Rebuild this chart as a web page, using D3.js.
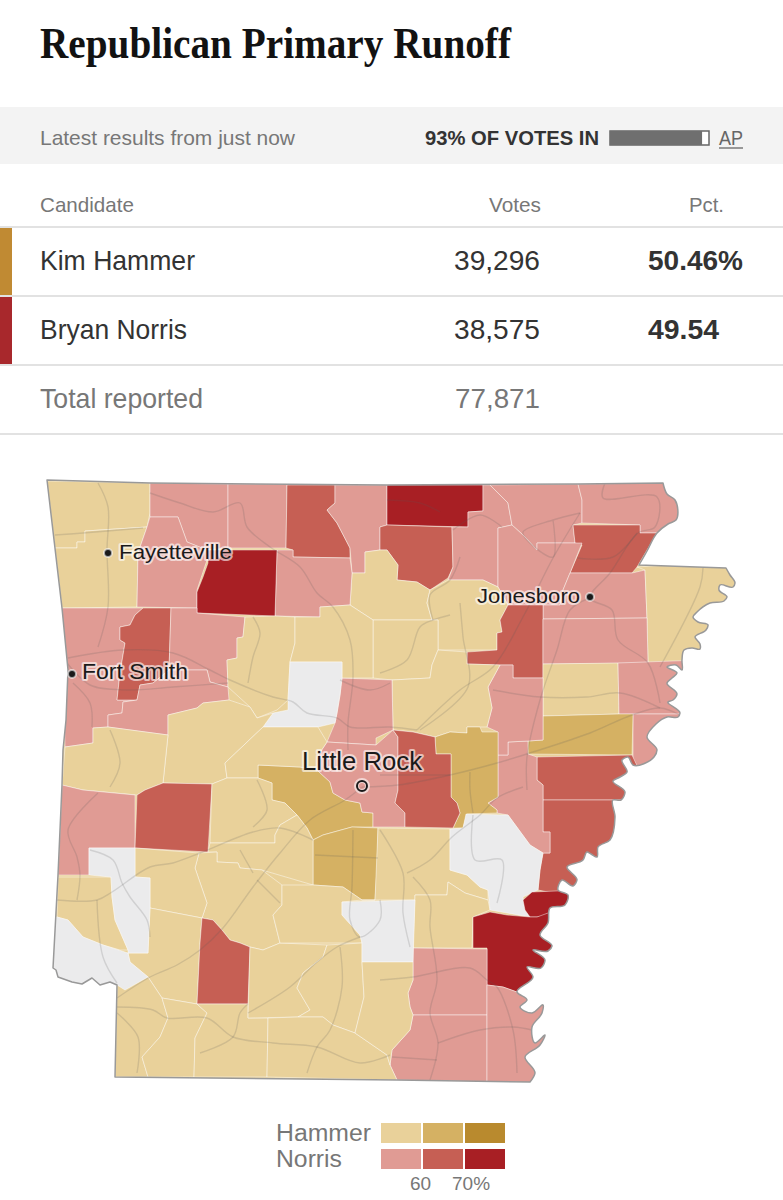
<!DOCTYPE html>
<html>
<head>
<meta charset="utf-8">
<script src="https://cdn.jsdelivr.net/npm/d3@7"></script>
<style>
  body { margin: 0; background: #fff; }
  svg { display: block; }
  text { font-family: "Liberation Sans", sans-serif; }
</style>
</head>
<body>
<svg id="chart" width="783" height="1200"></svg>
<script>
const candidates = ["Kim Hammer", "Bryan Norris"];
const votes = [39296, 38575];
const pcts = [50.46, 49.54];
const totalVotes = 77871;
const candidateColors = ["#c08a33", "#a8282c"];
const reportedPct = 93;

const legendRows = ["Hammer", "Norris"];
const legendBreaks = [50, 60, 70, 80];
const legendTicks = [60, 70];
const binColors = {
  hammerLow: "#e9d19a", hammerMid: "#d5b163", hammerHigh: "#b98a2e",
  norrisLow: "#e09b94", norrisMid: "#c65f54", norrisHigh: "#a81f24",
  none: "#ebebec"
};

// which county falls in which bin
const hammerLow = ["Benton", "Washington", "Stone", "Independence", "Cleburne", "Mississippi", "Cross", "White",
  "Pope", "VanBuren", "Yell", "Scott", "Perry", "Garland", "HotSpring", "Clark", "Pike", "Hempstead", "Sevier",
  "Miller", "Lafayette", "Columbia", "Ouachita", "Dallas", "Calhoun", "Union", "Bradley", "Jefferson", "Lincoln"];
const hammerMid = ["StFrancis", "Lonoke", "Saline", "Grant"];
const norrisLow = ["Carroll", "Madison", "Boone", "Baxter", "Sharp", "Randolph", "Clay", "Lawrence", "Craighead",
  "Poinsett", "Crittenden", "Lee", "Monroe", "Woodruff", "Faulkner", "Pulaski", "Searcy", "Crawford", "Johnson",
  "Logan", "Polk", "Drew", "Ashley", "Chicot"];
const norrisMid = ["Marion", "Izard", "Greene", "Jackson", "Franklin", "Sebastian", "Prairie", "Phillips", "Montgomery", "Nevada"];
const norrisHigh = ["Fulton", "Newton", "Desha", "DeshaNorth"];
const noResults = ["Conway", "Arkansas", "Howard", "LittleRiver", "Cleveland"];

// map geometry, in map units
const stateRiver = [[663,483],[667,494],[675,500],[676,520],[668,524],[657,533],[647,551],[639,565]];
const stateRiverEast = [[726,568],[730,575],[735,583],[733,587],[720,585],[719,590],[727,597],[724,601],[710,603],[697,612],[693,617],[698,622],[708,625],[706,630],[695,637],[700,644],[700,649],[692,648],[684,650],[682,660],[682,670],[676,665],[667,667],[677,673],[672,678],[667,683],[677,694],[673,700],[668,702],[680,713],[678,717],[667,717],[656,724],[647,737],[657,750],[654,757],[633,765],[628,757],[622,760],[627,772],[620,777],[613,781],[625,792],[621,800],[613,800],[615,817],[610,840],[598,847],[597,857],[591,854],[587,852],[583,860],[567,867],[577,880],[573,886],[562,880],[558,890],[568,895],[565,905],[550,908],[548,923],[540,935],[552,946],[548,951],[533,950],[545,960],[541,968],[527,967],[533,977],[517,992],[527,1000],[520,1007],[532,1013],[543,1005],[542,1013],[532,1027],[535,1043],[545,1035],[540,1045],[525,1057],[535,1073],[530,1082]];
const stateSouthWest = [[397,1080],[115,1077],[117,985],[110,982],[100,985],[92,978],[82,984],[72,982],[58,977],[56,970],[53,968],[58,875],[62,785],[63,750],[66,720],[68,670],[62,608],[47,480],[150,483],[387,485],[578,484]];
const stateRing = [...stateRiver, ...stateRiverEast, ...stateSouthWest];

const countyRings = {
  Benton: [[47,481],[150,483],[150,513],[147,527],[85,531],[85,542],[77,542],[77,548],[55,548]],
  Washington: [[55,548],[77,548],[77,542],[85,542],[85,531],[147,527],[138,553],[137,607],[62,608]],
  Carroll: [[150,483],[228,484],[228,548],[207,550],[187,542],[178,517],[150,517]],
  Madison: [[150,517],[178,517],[187,542],[207,550],[207,560],[197,590],[197,608],[137,607],[138,553],[147,527]],
  Boone: [[228,484],[287,484],[286,548],[228,548]],
  Marion: [[287,485],[335,485],[335,503],[327,510],[337,523],[350,548],[350,558],[293,557],[293,550],[286,548]],
  Baxter: [[335,485],[387,485],[387,525],[380,527],[380,550],[365,552],[365,573],[352,573],[350,548],[337,523],[327,510],[335,503]],
  Fulton: [[387,485],[483,485],[483,511],[468,512],[468,527],[387,525]],
  Izard: [[387,525],[452,527],[453,567],[448,578],[430,590],[417,582],[397,580],[398,565],[387,550],[380,550],[380,527]],
  Sharp: [[483,485],[490,485],[508,503],[512,525],[498,528],[498,587],[483,580],[448,580],[453,567],[452,527],[468,527],[468,512],[483,511]],
  Randolph: [[490,485],[578,484],[582,500],[582,523],[573,525],[575,543],[537,543],[537,550],[523,535],[512,525],[508,503]],
  Clay: [[578,484],[663,483],[690,500],[690,520],[657,533],[640,533],[640,525],[582,523],[582,500]],
  Greene: [[573,525],[640,525],[640,533],[657,533],[637,567],[632,573],[570,573],[582,545],[575,543]],
  Lawrence: [[498,528],[512,525],[523,535],[537,550],[537,543],[582,543],[570,573],[563,590],[560,605],[508,605],[498,587]],
  Stone: [[352,573],[365,573],[365,552],[380,550],[387,550],[398,565],[397,580],[417,582],[430,590],[427,603],[432,620],[373,620],[350,605]],
  Independence: [[448,580],[483,580],[498,587],[508,605],[500,620],[502,632],[497,633],[497,650],[438,650],[438,620],[432,620],[427,603],[430,590]],
  Cleburne: [[373,620],[438,620],[438,650],[432,665],[430,678],[392,680],[373,678]],
  Craighead: [[570,573],[632,573],[645,570],[647,618],[543,619],[543,605],[560,605],[563,590]],
  Jackson: [[508,605],[543,605],[543,678],[513,678],[513,665],[500,665],[467,664],[467,652],[497,650],[497,633],[502,632],[500,620]],
  Mississippi: [[645,570],[637,567],[745,560],[745,660],[690,663],[648,663],[647,618]],
  Poinsett: [[543,619],[647,618],[648,663],[543,664]],
  Cross: [[543,664],[618,663],[619,714],[543,716]],
  Crittenden: [[618,663],[700,660],[700,714],[619,714]],
  Lee: [[633,714],[700,714],[690,790],[633,772]],
  StFrancis: [[543,716],[619,714],[633,714],[632,755],[528,754],[528,741],[543,740]],
  Prairie: [[537,757],[632,755],[640,772],[640,800],[543,800],[543,785],[537,780]],
  Phillips: [[543,800],[640,800],[640,870],[590,900],[538,890],[540,870],[543,853],[550,853],[550,832],[543,832]],
  Monroe: [[498,755],[508,755],[508,742],[528,741],[528,754],[537,757],[537,780],[543,785],[543,832],[550,832],[550,853],[543,853],[530,845],[508,815],[497,813],[497,810],[488,803],[498,797],[498,780]],
  Woodruff: [[500,665],[513,665],[513,678],[543,678],[543,740],[528,741],[508,742],[508,755],[498,755],[498,732],[487,727],[492,708],[488,687]],
  White: [[392,680],[430,678],[432,665],[438,650],[467,652],[467,664],[500,665],[488,687],[492,708],[487,727],[467,727],[467,733],[450,732],[435,737],[413,732],[393,730]],
  Lonoke: [[435,737],[450,732],[467,733],[467,727],[480,727],[482,732],[498,732],[498,780],[498,797],[488,803],[497,810],[497,813],[467,814],[463,828],[453,828],[460,813],[457,803],[451,797],[451,754],[436,754]],
  Pulaski: [[342,678],[392,680],[393,730],[376,738],[376,745],[327,742],[335,723],[337,713],[340,695]],
  Saline: [[258,765],[300,767],[317,770],[330,782],[333,793],[345,800],[360,803],[362,812],[373,813],[373,827],[352,827],[323,835],[313,840],[307,828],[297,815],[285,803],[272,800],[272,783],[258,778]],
  Faulkner: [[327,742],[376,745],[393,730],[398,737],[398,790],[395,803],[405,813],[405,827],[373,827],[373,813],[362,812],[360,803],[345,800],[333,793],[330,782],[317,770],[317,757]],
  Franklin: [[393,730],[413,732],[435,737],[436,754],[451,754],[451,797],[457,803],[460,813],[453,828],[405,827],[405,813],[395,803],[398,790],[398,737]],
  Grant: [[352,827],[378,828],[377,870],[375,900],[362,900],[343,887],[313,885],[313,840],[323,835]],
  Jefferson: [[378,828],[450,829],[450,870],[467,875],[480,887],[488,890],[488,900],[465,893],[448,882],[447,895],[415,895],[415,900],[362,900],[375,900]],
  Lincoln: [[415,895],[447,895],[448,882],[465,893],[488,900],[490,910],[473,917],[472,948],[413,948]],
  Arkansas: [[466,814],[508,815],[530,845],[543,853],[540,870],[538,890],[523,897],[525,910],[530,917],[507,913],[490,910],[488,890],[480,887],[467,875],[450,870],[450,829],[463,828]],
  DeshaNorth: [[523,900],[532,892],[580,890],[580,912],[537,917],[530,917],[525,910]],
  Desha: [[473,917],[490,912],[507,915],[530,917],[537,917],[570,905],[570,1000],[517,992],[503,987],[487,985],[487,948],[473,948]],
  Drew: [[413,948],[487,949],[487,1015],[413,1015],[410,1007],[408,993],[413,980]],
  Ashley: [[413,1015],[487,1015],[487,1082],[397,1080],[390,1065],[392,1050],[410,1030]],
  Chicot: [[487,985],[503,987],[517,992],[570,1000],[570,1090],[487,1085]],
  Searcy: [[277,550],[293,550],[293,557],[350,558],[352,573],[350,605],[320,607],[320,617],[275,616]],
  Newton: [[208,550],[277,550],[275,616],[197,613],[197,592],[203,577],[208,563]],
  Crawford: [[62,608],[143,608],[135,615],[130,625],[120,627],[120,640],[125,643],[120,673],[117,700],[137,700],[123,702],[122,713],[108,715],[108,727],[93,728],[93,743],[65,747]],
  Sebastian: [[143,608],[171,608],[169,670],[153,683],[140,685],[137,700],[117,700],[120,673],[125,643],[120,640],[120,627],[130,625],[135,615]],
  Johnson: [[171,608],[197,608],[197,613],[245,617],[243,637],[237,638],[237,658],[227,660],[228,687],[210,682],[207,670],[169,670]],
  Logan: [[169,670],[207,670],[210,682],[228,687],[229,700],[203,703],[197,708],[168,715],[168,735],[108,727],[108,715],[122,713],[123,702],[137,700],[140,685],[153,683]],
  Pope: [[245,617],[275,616],[295,617],[295,643],[290,662],[288,700],[277,710],[257,718],[250,707],[228,687],[227,660],[237,658],[237,638],[243,637]],
  VanBuren: [[295,617],[320,617],[320,607],[350,605],[373,620],[373,678],[342,678],[342,662],[290,662],[295,643]],
  Conway: [[290,662],[342,662],[342,678],[340,695],[337,713],[335,723],[318,727],[263,727],[273,713],[288,710],[288,700]],
  Yell: [[168,715],[197,708],[203,703],[229,700],[250,707],[257,718],[273,713],[263,727],[225,763],[227,778],[212,784],[163,783],[168,735]],
  Scott: [[65,747],[93,743],[93,728],[108,727],[168,735],[163,783],[145,790],[137,795],[83,790],[62,785]],
  Polk: [[62,785],[83,790],[135,795],[135,848],[89,848],[89,875],[58,875]],
  Montgomery: [[137,795],[145,790],[163,783],[212,784],[208,852],[135,848]],
  Perry: [[225,763],[263,727],[318,727],[327,742],[317,757],[317,770],[300,767],[258,765],[258,778],[227,778]],
  Garland: [[212,784],[227,778],[258,778],[272,783],[272,800],[285,803],[297,815],[280,825],[275,835],[275,843],[210,843]],
  HotSpring: [[210,843],[275,843],[275,835],[280,825],[297,815],[307,828],[313,840],[313,885],[262,870],[240,868],[238,863],[217,862],[217,852],[208,852]],
  Clark: [[199,853],[217,852],[217,862],[238,863],[240,868],[262,870],[282,885],[282,905],[273,915],[280,943],[263,950],[250,947],[240,943],[230,940],[222,930],[213,920],[202,918],[207,903],[195,868]],
  Pike: [[135,848],[199,853],[195,868],[207,903],[202,918],[150,908],[150,878],[135,877]],
  Hempstead: [[150,908],[202,918],[200,943],[197,1004],[162,998],[152,983],[148,977],[130,962],[128,953],[148,953]],
  Nevada: [[202,918],[213,920],[222,930],[230,940],[240,943],[250,947],[248,1004],[197,1004],[200,943]],
  Sevier: [[58,877],[111,877],[112,897],[115,920],[128,950],[120,950],[103,945],[83,937],[68,920],[57,917]],
  Howard: [[89,848],[135,848],[135,877],[150,878],[150,908],[148,953],[128,953],[128,950],[115,920],[112,897],[111,877],[89,875]],
  LittleRiver: [[50,917],[57,917],[68,920],[83,937],[103,945],[128,953],[130,962],[148,977],[125,995],[40,1000],[40,930]],
  Miller: [[148,977],[152,983],[162,998],[168,1018],[160,1037],[142,1057],[148,1077],[115,1077],[117,985],[125,990]],
  Lafayette: [[162,998],[197,1004],[207,1013],[195,1038],[194,1077],[148,1077],[142,1057],[160,1037],[168,1018]],
  Columbia: [[197,1004],[248,1004],[248,1018],[268,1018],[267,1077],[194,1077],[195,1038],[207,1013]],
  Ouachita: [[250,947],[263,950],[280,943],[327,945],[323,957],[303,973],[297,988],[310,1010],[298,1017],[248,1018]],
  Dallas: [[282,885],[313,885],[343,887],[362,900],[342,902],[342,915],[360,935],[362,943],[280,943],[273,915],[282,905]],
  Calhoun: [[327,945],[362,943],[362,962],[364,997],[355,1033],[333,1025],[323,1017],[298,1017],[310,1010],[297,988],[303,973],[323,957]],
  Union: [[268,1018],[298,1017],[323,1017],[333,1025],[355,1033],[387,1055],[390,1065],[397,1080],[267,1077]],
  Cleveland: [[342,902],[415,900],[413,962],[362,962],[362,943],[360,935],[342,915]],
  Bradley: [[362,962],[413,962],[413,980],[408,993],[410,1007],[413,1015],[410,1030],[392,1050],[390,1065],[387,1055],[355,1033],[364,997]]
};

const roadLines = [
  [[68,658],[123,650],[173,653],[210,670],[230,680],[273,697],[293,702],[307,713],[337,718],[350,727],[390,727],[417,730]],
  [[417,730],[460,690],[493,667],[523,617],[553,558],[580,513]],
  [[362,787],[398,785],[450,775],[497,763],[530,753],[590,733],[632,715],[660,708],[680,715]],
  [[117,998],[150,977],[177,965],[200,950],[223,928],[253,887],[280,853],[310,820],[345,800],[362,787]],
  [[98,483],[108,507],[107,550],[108,607],[98,647]],
  [[55,535],[83,533],[143,528]],
  [[150,493],[180,503],[213,512],[240,503],[247,527],[270,547],[300,567],[317,593],[333,607],[350,640],[353,677],[348,723],[348,750]],
  [[253,617],[260,633],[253,657],[248,683]],
  [[67,663],[90,685],[127,690],[173,687],[228,683]],
  [[73,683],[90,703],[92,727]],
  [[110,730],[120,763],[110,787]],
  [[98,793],[68,830],[77,857],[80,875],[77,900]],
  [[57,900],[97,900],[112,892],[150,867],[173,863],[200,853],[253,832],[280,828],[313,840]],
  [[90,850],[113,860],[122,883],[130,897],[147,920],[150,937]],
  [[97,900],[103,957],[117,983]],
  [[117,1007],[153,1010],[167,1018],[207,1018],[233,1037],[273,1043],[317,1047],[360,1063],[390,1055]],
  [[117,1013],[138,1037],[137,1073]],
  [[200,1053],[233,1037],[240,1013],[248,1004]],
  [[248,1013],[290,987],[317,962],[337,947],[360,937]],
  [[340,947],[342,987],[330,1030],[317,1047],[307,1073]],
  [[353,830],[352,887],[350,920],[360,937],[380,920],[380,900]],
  [[380,830],[403,873],[403,913],[410,947]],
  [[407,873],[430,860],[452,837],[480,815],[497,798],[523,787]],
  [[473,815],[475,860],[502,860],[497,903]],
  [[413,877],[430,900],[430,927],[437,980],[430,1013],[438,1043],[430,1080]],
  [[380,980],[413,977],[470,968],[487,980],[497,987],[513,1030],[517,1073]],
  [[438,1043],[480,1030],[513,1027],[532,1030]],
  [[392,1057],[437,1060]],
  [[605,483],[603,498],[657,497],[655,527],[638,533],[610,573],[590,598],[612,610],[618,640],[648,663],[660,703]],
  [[703,568],[700,587],[660,667]],
  [[590,598],[570,610],[557,650],[540,700],[527,757],[527,790]],
  [[493,690],[540,697],[587,697],[620,693],[660,708]],
  [[577,558],[613,557],[637,533]],
  [[553,520],[553,557],[527,540],[523,532],[553,520],[580,513]],
  [[453,530],[480,515],[502,527]],
  [[460,557],[450,580],[430,595],[433,620]],
  [[460,603],[463,637],[468,687],[420,730]],
  [[380,673],[407,660],[420,627],[433,620],[450,615]],
  [[387,500],[420,503],[440,512]],
  [[470,772],[470,790],[473,813]],
  [[380,775],[450,775]],
  [[340,680],[370,690],[390,683]],
  [[257,780],[267,810],[253,827]],
  [[240,850],[253,873]],
  [[257,880],[280,903]],
  [[315,855],[378,858]]
];

const cityNames = ["Fayetteville", "Fort Smith", "Jonesboro", "Little Rock"];
const cityPoints = [[108,553], [72,674], [590,597], [362,786]];

const svg = d3.select("#chart");

const label = (parent, str, x, y, size, fill, opts = {}) => {
  const t = parent.append("text")
    .attr("x", x).attr("y", y)
    .attr("font-size", size)
    .attr("fill", fill)
    .attr("text-anchor", opts.anchor || "start")
    .attr("font-weight", opts.weight || "normal")
    .text(str);
  if (opts.len) t.attr("textLength", opts.len).attr("lengthAdjust", "spacingAndGlyphs");
  if (opts.family) t.style("font-family", opts.family);
  return t;
};

// title
label(svg, "Republican Primary Runoff", 40, 58, 44, "#121212", {
  weight: "bold", len: 471, family: '"Liberation Serif", serif'
});

// status band
svg.append("rect").attr("x", 0).attr("y", 107).attr("width", 783).attr("height", 57).attr("fill", "#f3f3f3");
label(svg, "Latest results from just now", 40, 145, 21, "#777", { len: 255 });
label(svg, `${reportedPct}% OF VOTES IN`, 425, 145, 21, "#333", { weight: "bold", len: 174 });

const progress = d3.scaleLinear().domain([0, 100]).range([610, 709]);
svg.append("rect").attr("x", progress(0)).attr("y", 131).attr("width", progress(100) - progress(0)).attr("height", 14)
  .attr("fill", "#fff").attr("stroke", "#666").attr("stroke-width", 1.5);
svg.append("rect").attr("x", progress(0)).attr("y", 131).attr("width", progress(reportedPct) - progress(0)).attr("height", 14)
  .attr("fill", "#6f6f6f");
label(svg, "AP", 719, 145, 21, "#666", { len: 24 });
svg.append("line").attr("x1", 719).attr("x2", 743).attr("y1", 148).attr("y2", 148).attr("stroke", "#666").attr("stroke-width", 1.3);

// results table
label(svg, "Candidate", 40, 212, 21, "#777", { len: 94 });
label(svg, "Votes", 541, 212, 21, "#777", { anchor: "end", len: 52 });
label(svg, "Pct.", 724, 212, 21, "#777", { anchor: "end", len: 35 });

const rowY = d3.scaleBand().domain(d3.range(3)).range([227, 434]);
svg.selectAll(".rule").data(d3.range(4)).enter().append("line")
  .attr("class", "rule")
  .attr("x1", 0).attr("x2", 783)
  .attr("y1", i => 227 + i * rowY.bandwidth()).attr("y2", i => 227 + i * rowY.bandwidth())
  .attr("stroke", "#e2e2e2").attr("stroke-width", 2);

const fmt = d3.format(",");
candidates.forEach((c, i) => {
  const y = rowY(i);
  svg.append("rect").attr("x", 0).attr("y", y + 1).attr("width", 12).attr("height", rowY.bandwidth() - 2).attr("fill", candidateColors[i]);
  label(svg, c, 40, y + 43, 28, "#333", { len: i === 0 ? 155 : 147 });
  label(svg, fmt(votes[i]), 540, y + 43, 28, "#333", { anchor: "end", len: 86 });
  label(svg, d3.format(".2f")(pcts[i]) + (i === 0 ? "%" : ""), 648, y + 43, 27, "#333", { weight: "bold", len: i === 0 ? 95 : 71 });
});
label(svg, "Total reported", 40, rowY(2) + 43, 28, "#777", { len: 163 });
label(svg, fmt(totalVotes), 540, rowY(2) + 43, 28, "#777", { anchor: "end", len: 85 });

// county map
const path = d3.geoPath(d3.geoIdentity());
const asPolygon = ring => {
  const closed = ring.concat([ring[0]]);
  return { type: "Polygon", coordinates: [closed] };
};
// only the river edge is rounded, the surveyed borders stay straight
const riverEdge = d3.line().curve(d3.curveCatmullRom.alpha(0.8));
const outlineD = riverEdge(stateRiver) + "L" + riverEdge(stateRiverEast).slice(1) + "L" + stateSouthWest.join("L") + "Z";

const bins = { hammerLow, hammerMid, norrisLow, norrisMid, norrisHigh, none: noResults };
const binOf = {};
Object.entries(bins).forEach(([bin, names]) => names.forEach(n => { binOf[n] = bin; }));

svg.append("clipPath").attr("id", "state-clip").append("path").attr("d", outlineD);

const map = svg.append("g").attr("clip-path", "url(#state-clip)");
map.append("path").attr("d", outlineD).attr("fill", binColors.hammerLow);

map.selectAll(".county")
  .data(Object.keys(countyRings))
  .enter().append("path")
  .attr("class", "county")
  .attr("d", d => path(asPolygon(countyRings[d])))
  .attr("fill", d => binColors[binOf[d]])
  .attr("stroke", "#fff")
  .attr("stroke-opacity", 0.5)
  .attr("stroke-width", 0.9)
  .attr("stroke-linejoin", "round");

map.selectAll(".road")
  .data(roadLines)
  .enter().append("path")
  .attr("class", "road")
  .attr("d", d => d3.line().curve(d3.curveCatmullRom)(d))
  .attr("fill", "none")
  .attr("stroke", "#5a5a5a")
  .attr("stroke-opacity", 0.18)
  .attr("stroke-width", 1.4)
  .attr("stroke-linejoin", "round");

svg.append("path").attr("d", outlineD)
  .attr("fill", "none").attr("stroke", "#999").attr("stroke-width", 1.5).attr("stroke-linejoin", "round");

// cities
const cityLabelAt = [[119,559,21,113], [82,679,22,106], [477,603,21,103], [302,770,25,120]];
cityNames.forEach((name, i) => {
  const [px, py] = path.projection()(cityPoints[i]);
  if (name === "Little Rock") {
    svg.append("circle").attr("cx", px).attr("cy", py).attr("r", 5.5)
      .attr("fill", "none").attr("stroke", "#fff").attr("stroke-opacity", 0.6).attr("stroke-width", 5);
    svg.append("circle").attr("cx", px).attr("cy", py).attr("r", 5)
      .attr("fill", "none").attr("stroke", "#1a1a1a").attr("stroke-width", 2);
  } else {
    svg.append("circle").attr("cx", px).attr("cy", py).attr("r", 4)
      .attr("fill", "#1a1a1a").attr("stroke", "#fff").attr("stroke-opacity", 0.6).attr("stroke-width", 2);
  }
  const [lx, ly, size, len] = cityLabelAt[i];
  label(svg, name, lx, ly, size, "#1a1a1a", { len })
    .attr("stroke", "#fff").attr("stroke-opacity", 0.6).attr("stroke-width", 4)
    .attr("stroke-linejoin", "round").style("paint-order", "stroke");
});

// legend
const legendX = d3.scaleLinear().domain([legendBreaks[0], legendBreaks[3]]).range([381, 507]);
const legendY = d3.scaleBand().domain(legendRows).range([1123, 1169]).paddingInner(6 / 26);
const legendColors = {
  Hammer: [binColors.hammerLow, binColors.hammerMid, binColors.hammerHigh],
  Norris: [binColors.norrisLow, binColors.norrisMid, binColors.norrisHigh]
};
legendRows.forEach(row => {
  label(svg, row, 276, legendY(row) + 18, 23, "#777", { len: row === "Hammer" ? 95 : 66 });
  d3.range(3).forEach(k => {
    svg.append("rect")
      .attr("x", legendX(legendBreaks[k]))
      .attr("y", legendY(row))
      .attr("width", legendX(legendBreaks[k + 1]) - legendX(legendBreaks[k]) - 2)
      .attr("height", legendY.bandwidth())
      .attr("fill", legendColors[row][k]);
  });
});
legendTicks.forEach((t, i) => {
  label(svg, i === legendTicks.length - 1 ? `${t}%` : `${t}`, legendX(t) - 13, 1190, 19, "#777");
});
</script>
</body>
</html>
